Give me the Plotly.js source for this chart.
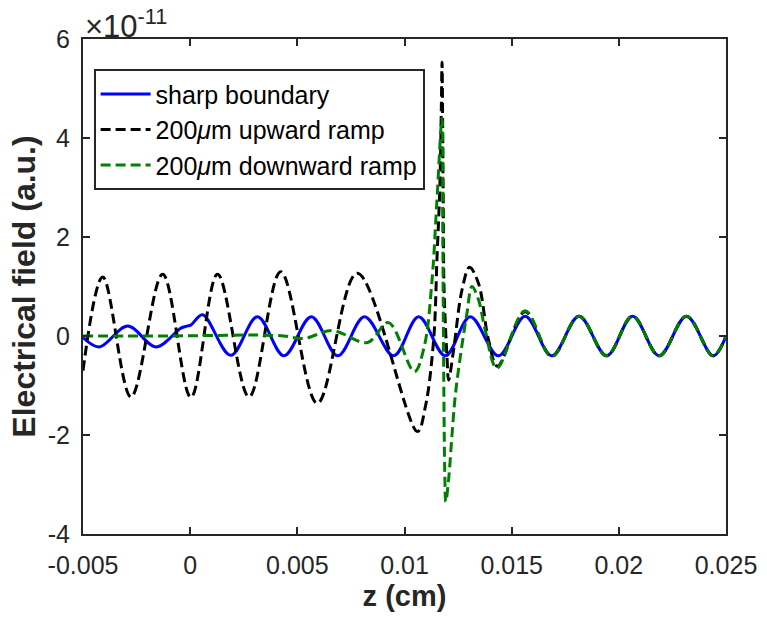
<!DOCTYPE html>
<html>
<head>
<meta charset="utf-8">
<script src="https://cdn.plot.ly/plotly-3.0.1.min.js"></script>
<style>html,body{margin:0;padding:0;background:#fff;}#chart{width:767px;height:622px;}</style>
</head>
<body>
<div id="chart"></div>
<script>
// z in cm, field values in units of 1e-11 (a.u.)
const blueZ = [-0.005, -0.004236, -0.002914, -0.001597, -0.000433, -0.000154, 0.000033, 0.000577, 0.001895, 0.003138, 0.004376, 0.005652, 0.00689, 0.008133, 0.009497, 0.010661, 0.011904, 0.013068, 0.014385, 0.015628, 0.016872, 0.018142, 0.019432, 0.020642, 0.021881, 0.023156, 0.024395, 0.025];
const blueE = [-0.03, -0.22, 0.20, -0.22, 0.16, 0.20, 0.22, 0.43, -0.39, 0.39, -0.40, 0.39, -0.40, 0.39, -0.40, 0.39, -0.40, 0.39, -0.40, 0.40, -0.40, 0.40, -0.40, 0.40, -0.40, 0.40, -0.40, 0.0];

const blackZ = [-0.005, -0.004078, -0.002761, -0.001285, 0.0000326, 0.001276, 0.002747, 0.004223, 0.005931, 0.007793, 0.0106, 0.010973, 0.011359, 0.011518, 0.011648, 0.011718, 0.01175, 0.011801, 0.011848, 0.011983, 0.012058, 0.012291, 0.012682, 0.013035, 0.013454, 0.01392, 0.014339, 0.015628, 0.016872, 0.018142, 0.019432, 0.020642, 0.021881, 0.023156, 0.024395, 0.025];
const blackE = [-0.7, 1.19, -1.23, 1.25, -1.24, 1.25, -1.23, 1.30, -1.36, 1.27, -1.93, -1.43, -0.08, 1.60, 3.0, 4.6, 5.53, 3.0, 0.9, -0.42, -0.89, -0.28, 0.93, 1.39, 1.06, -0.08, -0.61, 0.49, -0.41, 0.40, -0.40, 0.40, -0.40, 0.40, -0.40, 0.0];

const greenZ = [-0.005, -0.003, -0.001, 0.001, 0.003, 0.004376, 0.005307, 0.006629, 0.008273, 0.00925, 0.010461, 0.010927, 0.011285, 0.011508, 0.01175, 0.011788, 0.011834, 0.011881, 0.011927, 0.012058, 0.012216, 0.01237, 0.012603, 0.012914, 0.013147, 0.013454, 0.013766, 0.014311, 0.015628, 0.016872, 0.018142, 0.019432, 0.020642, 0.021881, 0.023156, 0.024395, 0.025];
const greenE = [0.0, 0.0, 0.0, 0.01, 0.02, 0.0, -0.05, 0.11, -0.13, 0.27, -0.72, -0.2, 1.13, 2.7, 4.4, 2.0, -1.0, -2.8, -3.35, -2.9, -2.0, -1.2, -0.42, 0.46, 1.0, 0.73, 0.12, -0.65, 0.51, -0.41, 0.40, -0.40, 0.40, -0.40, 0.40, -0.40, 0.0];

const seriesNames = ['sharp boundary', '200<i>\u03bc</i>m upward ramp', '200<i>\u03bc</i>m downward ramp'];
const xTickVals = [-0.005, 0, 0.005, 0.01, 0.015, 0.02, 0.025];
const xTickText = ['-0.005', '0', '0.005', '0.01', '0.015', '0.02', '0.025'];
const yTickVals = [-4, -2, 0, 2, 4, 6];
const yTickText = ['-4', '-2', '0', '2', '4', '6'];

const FONT = 'Liberation Sans, Arial, Helvetica, sans-serif';
const AX = '#262626';

const traces = [
  {x: blueZ, y: blueE, name: seriesNames[0], mode: 'lines', line: {color: '#0000ff', width: 3, shape: 'spline', smoothing: 1}},
  {x: blackZ, y: blackE, name: seriesNames[1], mode: 'lines', line: {color: '#000000', width: 3, shape: 'spline', smoothing: 1, dash: '10px,5px'}},
  {x: greenZ, y: greenE, name: seriesNames[2], mode: 'lines', line: {color: '#008000', width: 3, shape: 'spline', smoothing: 1, dash: '10px,5px'}}
];

const axisCommon = {
  showgrid: false, zeroline: false, showline: true, mirror: 'ticks',
  linecolor: AX, linewidth: 2, ticks: 'inside', ticklen: 7, tickwidth: 2, tickcolor: AX,
  tickfont: {family: FONT, size: 25, color: AX}
};

const layout = {
  width: 767, height: 622,
  margin: {l: 83, r: 41, t: 39, b: 88},
  paper_bgcolor: '#ffffff', plot_bgcolor: '#ffffff',
  font: {family: FONT, color: AX},
  showlegend: true,
  legend: {
    x: 0.0165, y: 0.939, xanchor: 'left', yanchor: 'top',
    bgcolor: '#ffffff', bordercolor: AX, borderwidth: 2,
    font: {family: FONT, size: 25, color: '#000000'},
    itemwidth: 50, tracegroupgap: 0
  },
  xaxis: Object.assign({}, axisCommon, {
    range: [-0.005, 0.025], tickmode: 'array', tickvals: xTickVals, ticktext: xTickText,
    ticklabelstandoff: 8,
    title: {text: '<b>z (cm)</b>', font: {family: FONT, size: 29, color: AX}, standoff: 8}
  }),
  yaxis: Object.assign({}, axisCommon, {
    range: [-4, 6], tickmode: 'array', tickvals: yTickVals, ticktext: yTickText,
    ticklabelstandoff: 6,
    title: {text: '<b>Electrical field (a.u.)</b>', font: {family: FONT, size: 32, color: AX}, standoff: 3}
  }),
  annotations: [{
    xref: 'paper', yref: 'paper', x: 0.0, y: 1.0, xanchor: 'left', yanchor: 'bottom',
    text: '\u00d710<sup>-11</sup>', showarrow: false, yshift: -7, xshift: 0,
    font: {family: FONT, size: 31, color: AX}
  }]
};

Plotly.newPlot('chart', traces, layout, {staticPlot: true, displayModeBar: false});
</script>
</body>
</html>
